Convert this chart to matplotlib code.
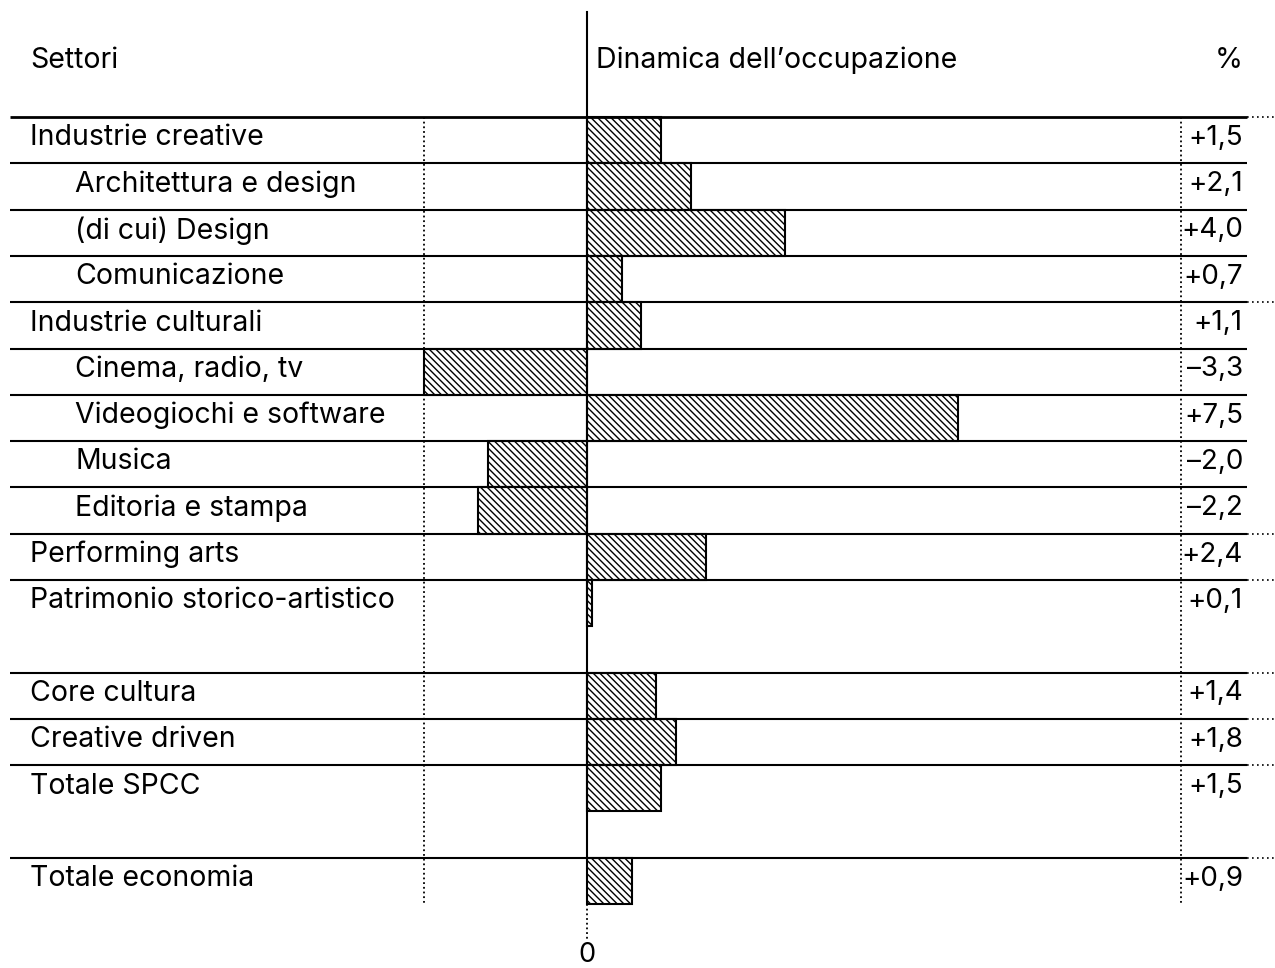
import matplotlib.pyplot as plt

plt.rcParams['font.family'] = ['Inter', 'DejaVu Sans']
plt.rcParams['hatch.linewidth'] = 1.0

# data
labels = ["Industrie creative", "Architettura e design", "(di cui) Design",
          "Comunicazione", "Industrie culturali", "Cinema, radio, tv",
          "Videogiochi e software", "Musica", "Editoria e stampa",
          "Performing arts", "Patrimonio storico-artistico", "Core cultura",
          "Creative driven", "Totale SPCC", "Totale economia"]
values = [1.5, 2.1, 4.0, 0.7, 1.1, -3.3, 7.5, -2.0, -2.2, 2.4, 0.1,
          1.4, 1.8, 1.5, 0.9]
levels = [0, 1, 1, 1, 0, 1, 1, 1, 1, 0, 0, 0, 0, 0, 0]
slots = [0, 1, 2, 3, 4, 5, 6, 7, 8, 9, 10, 12, 13, 14, 16]

W, H = 1275, 968
x0_px, unit_px = 587, 49.5     # zero line position and px per unit
top_px, row_px = 117, 46.3     # first row top and row height
fs = 20.5

fig = plt.figure(figsize=(W / 100, H / 100), dpi=100)
ax = fig.add_axes([0, 0, 1, 1])
ax.set_xlim(-x0_px / unit_px, (W - x0_px) / unit_px)
ax.set_ylim((H - top_px) / row_px, -top_px / row_px)
ax.axis('off')

xmin, xmax = -3.3, 12.0
last = slots[-1] + 1

# bars
ax.barh([s + 0.5 for s in slots], values, height=1.0, facecolor='white',
        edgecolor='black', linewidth=1.5, hatch='\\' * 5, zorder=3)

# row lines
tx = ax.get_yaxis_transform()
for s, lev in zip(slots, levels):
    ax.plot([10 / W, 1247 / W], [s, s], transform=tx, color='black',
            lw=2.0 if s == 0 else 1.5, solid_capstyle='butt', zorder=4)
    if lev == 0:
        ax.plot([1247 / W, 1.0], [s, s], transform=tx, color='black',
                lw=1.2, linestyle=(0, (1, 2)), zorder=4)

# dotted frame lines
for xv in (xmin, xmax):
    ax.plot([xv, xv], [0, last], color='black', lw=1.3,
            linestyle=(0, (1, 1.6)), zorder=2)

# zero line
ax.plot([0, 0], [-(top_px - 12) / row_px, slots[-1]], color='black',
        lw=1.5, zorder=5)
ax.plot([0, 0], [last, last + 0.75], color='black', lw=1.3,
        linestyle=(0, (1, 1.6)), zorder=5)
ax.text(0, last + 1.1, "0", ha='center', va='center', fontsize=fs - 1)

# headers
hy = -(top_px - 60) / row_px
ax.text(30 / W, hy, "Settori", transform=tx, ha='left', va='center',
        fontsize=fs)
ax.text(596 / W, hy, "Dinamica dell\u2019occupazione", transform=tx,
        ha='left', va='center', fontsize=fs)
ax.text(1243 / W, hy, "%", transform=tx, ha='right', va='center',
        fontsize=fs)

# row labels and values
for lab, v, lev, s in zip(labels, values, levels, slots):
    xl = 30 if lev == 0 else 75
    ax.text(xl / W, s + 0.45, lab, transform=tx, ha='left', va='center',
            fontsize=fs)
    sign = '+' if v >= 0 else '\u2013'
    txt = sign + f"{abs(v):.1f}".replace('.', ',')
    ax.text(1243 / W, s + 0.45, txt, transform=tx, ha='right',
            va='center', fontsize=fs - 0.5)

fig.savefig("out.png", dpi=100)
